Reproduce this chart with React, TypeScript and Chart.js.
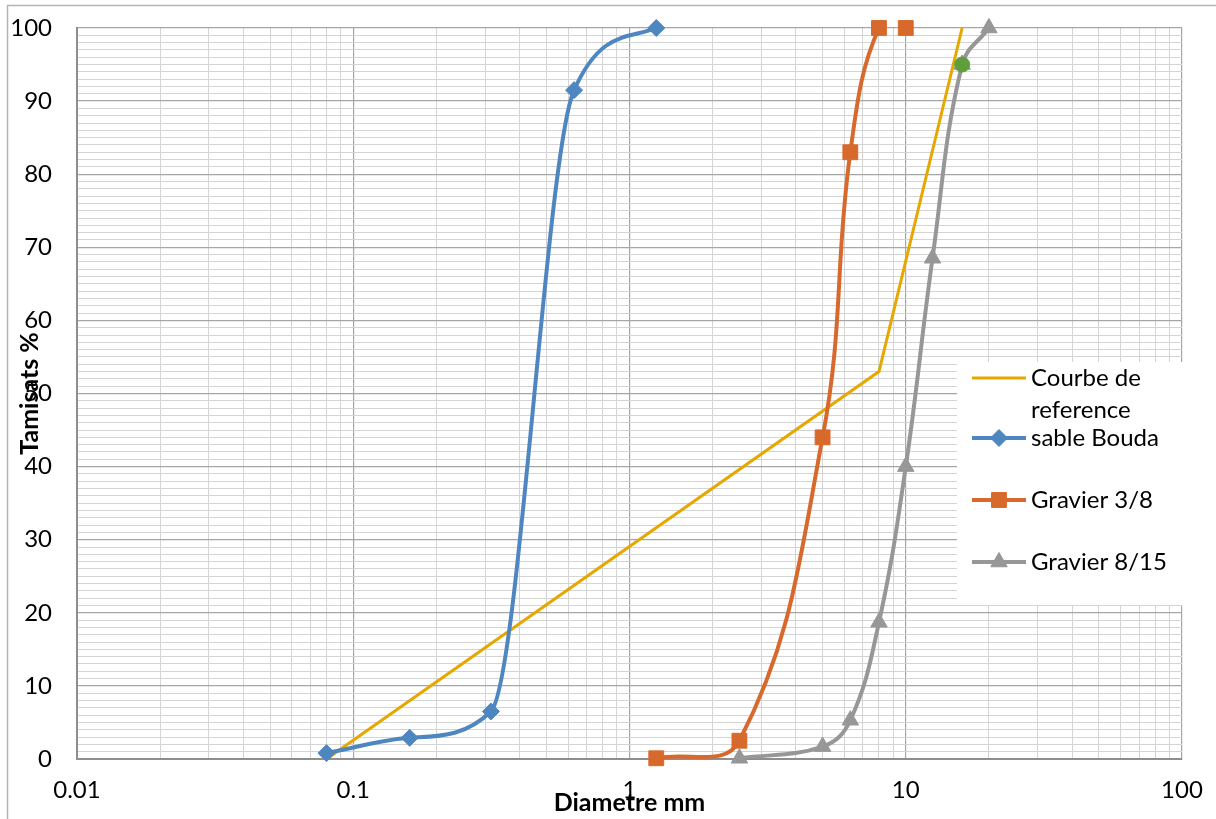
import React, { useEffect, useRef } from 'react';
import { Chart, registerables } from 'chart.js';

Chart.register(...registerables);

// ---- data ----
const REF_LABEL = 'Courbe de reference';
const REF_X = [0.08, 8, 16];
const REF_Y = [0, 53, 100];

const SABLE_LABEL = 'sable Bouda';
const SABLE_X = [0.08, 0.16, 0.315, 0.63, 1.25];
const SABLE_Y = [0.8, 2.9, 6.5, 91.5, 100];

const G38_LABEL = 'Gravier 3/8';
const G38_X = [1.25, 2.5, 5, 6.3, 8, 10];
const G38_Y = [0.1, 2.5, 44, 83, 100, 100];

const G815_LABEL = 'Gravier 8/15';
const G815_X = [2.5, 5, 6.3, 8, 10, 12.5, 16, 20];
const G815_Y = [0.1, 1.7, 5.3, 18.7, 40, 68.5, 95, 100];

const EXTRA_X = [16];
const EXTRA_Y = [95];

const X_TICK_LABELS = ['0.01', '0.1', '1', '10', '100'];
const X_MINOR_MULTIPLIERS = [1, 2, 3, 4, 5, 6, 7, 8, 9];
const Y_MIN = 0;
const Y_MAX = 100;
const Y_STEP = 1;
const Y_LABEL_STEP = 10;

const X_TITLE = 'Diametre mm';
const Y_TITLE = 'Tamisats %';

// ---- styles ----
const C_REF = '#E6A800';
const C_BLUE = '#4E86C0';
const C_ORANGE = '#D8692C';
const C_GRAY = '#979797';
const C_GREEN = '#5E9E3D';
const GRID_MAJOR = '#A6A6A6';
const GRID_MINOR = '#D4D4D4';
const FONT = 'Lato, "Liberation Sans", sans-serif';

const toPts = (xs: number[], ys: number[]) => xs.map((x, i) => ({ x, y: ys[i] }));
const isDecade = (v: number) => X_TICK_LABELS.some((l) => Math.abs(parseFloat(l) - v) < 1e-9 * Math.max(1, v));

function drawMarker(ctx: CanvasRenderingContext2D, style: string, r: number, x: number, y: number) {
  ctx.beginPath();
  if (style === 'rectRot') {
    ctx.moveTo(x, y - r);
    ctx.lineTo(x + r, y);
    ctx.lineTo(x, y + r);
    ctx.lineTo(x - r, y);
  } else if (style === 'rect') {
    const s = r * Math.SQRT1_2;
    ctx.rect(x - s, y - s, 2 * s, 2 * s);
  } else if (style === 'triangle') {
    ctx.moveTo(x, y - r);
    ctx.lineTo(x + r * 0.866, y + r * 0.5);
    ctx.lineTo(x - r * 0.866, y + r * 0.5);
  } else {
    ctx.arc(x, y, r, 0, Math.PI * 2);
  }
  ctx.closePath();
  ctx.fill();
  ctx.stroke();
}

const frameLegendPlugin = {
  id: 'frameLegend',
  beforeDraw(chart: any) {
    const { ctx, width, height } = chart;
    ctx.save();
    ctx.fillStyle = '#fff';
    ctx.fillRect(0, 0, width, height);
    ctx.strokeStyle = '#B4B4B4';
    ctx.lineWidth = 1.5;
    ctx.strokeRect(7.5, 5.5, width + 50, height + 50);
    ctx.restore();
  },
  beforeDatasetsDraw(chart: any) {
    const { ctx, chartArea } = chart;
    const left = chartArea.right - 225;
    const top = chartArea.top + 334;
    const bottom = chartArea.top + 577;
    ctx.save();
    ctx.fillStyle = '#fff';
    ctx.fillRect(left, top, chartArea.right - left + 2, bottom - top);
    const ys = [top + 16, top + 76, top + 138, top + 200];
    ctx.font = '24px ' + FONT;
    ctx.textBaseline = 'middle';
    ctx.textAlign = 'left';
    [0, 1, 2, 3].forEach((di, i) => {
      const ds = chart.data.datasets[di];
      const y = ys[i];
      const x0 = left + 15;
      const x1 = left + 69;
      ctx.strokeStyle = ds.borderColor;
      ctx.lineWidth = ds.borderWidth;
      ctx.beginPath();
      ctx.moveTo(x0, y);
      ctx.lineTo(x1, y);
      ctx.stroke();
      if (ds.pointRadius > 0) {
        ctx.fillStyle = ds.pointBackgroundColor;
        ctx.strokeStyle = ds.pointBorderColor;
        ctx.lineWidth = 1;
        drawMarker(ctx, ds.pointStyle, ds.pointRadius, (x0 + x1) / 2, y);
      }
      ctx.fillStyle = '#000';
      const tx = left + 74;
      if (i === 0) {
        const words = String(ds.label).split(' ');
        ctx.fillText(words.slice(0, 2).join(' '), tx, y);
        ctx.fillText(words.slice(2).join(' '), tx, y + 32);
      } else {
        ctx.fillText(ds.label, tx, y);
      }
    });
    ctx.restore();
  },
  afterDraw(chart: any) {
    const { ctx, chartArea } = chart;
    ctx.save();
    ctx.fillStyle = '#000';
    ctx.font = 'bold 25px ' + FONT;
    ctx.textAlign = 'center';
    ctx.textBaseline = 'middle';
    ctx.fillText(X_TITLE, (chartArea.left + chartArea.right) / 2, chartArea.bottom + 44);
    ctx.translate(30, (chartArea.top + chartArea.bottom) / 2);
    ctx.rotate(-Math.PI / 2);
    ctx.fillText(Y_TITLE, 0, 0);
    ctx.restore();
  },
};

export default function App() {
  const ref = useRef<HTMLCanvasElement>(null);
  useEffect(() => {
    if (!ref.current) return;
    const lineDs = (label: string, xs: number[], ys: number[], color: string, style: any, radius: number, width: number, order: number) => ({
      label,
      order,
      data: toPts(xs, ys),
      borderColor: color,
      backgroundColor: color,
      pointBackgroundColor: color,
      pointBorderColor: color,
      pointBorderWidth: 1,
      borderWidth: width,
      pointStyle: style,
      pointRadius: radius,
      pointHoverRadius: radius,
      tension: 0.4,
      clip: false as any,
      segment: {
        borderColor: (c: any) => (c.p0.parsed.y >= Y_MAX && c.p1.parsed.y >= Y_MAX ? 'rgba(0,0,0,0)' : color),
      },
    });
    const datasets: any[] = [
      { ...lineDs(REF_LABEL, REF_X, REF_Y, C_REF, 'circle', 0, 3, 4), tension: 0 },
      { ...lineDs(SABLE_LABEL, SABLE_X, SABLE_Y, C_BLUE, 'rectRot', 8.5, 4, 3), cubicInterpolationMode: 'monotone' },
      lineDs(G38_LABEL, G38_X, G38_Y, C_ORANGE, 'rect', 10.5, 4, 2),
      lineDs(G815_LABEL, G815_X, G815_Y, C_GRAY, 'triangle', 9.5, 4, 1),
      { ...lineDs('', EXTRA_X, EXTRA_Y, C_GREEN, 'circle', 7.5, 0, 0), showLine: false },
    ];
    const chart = new Chart(ref.current, {
      type: 'line',
      data: { datasets },
      plugins: [frameLegendPlugin],
      options: {
        animation: false,
        responsive: false,
        layout: { padding: { top: 28, right: 34, left: 0, bottom: 0 } },
        elements: { line: { capBezierPoints: false } },
        plugins: { legend: { display: false }, tooltip: { enabled: false }, title: { display: false } },
        scales: {
          x: {
            type: 'logarithmic',
            min: parseFloat(X_TICK_LABELS[0]),
            max: parseFloat(X_TICK_LABELS[X_TICK_LABELS.length - 1]),
            afterBuildTicks: (scale: any) => {
              const vals: number[] = [];
              X_TICK_LABELS.forEach((l, i) => {
                const d = parseFloat(l);
                if (i === X_TICK_LABELS.length - 1) vals.push(d);
                else X_MINOR_MULTIPLIERS.forEach((m) => vals.push(Number((d * m).toPrecision(6))));
              });
              scale.ticks = vals.map((v) => ({ value: v }));
            },
            afterFit: (scale: any) => {
              scale.height = 60;
              scale.paddingLeft = 0;
              scale.paddingRight = 0;
            },
            ticks: {
              autoSkip: false,
              maxRotation: 0,
              padding: 17,
              color: '#000',
              font: { family: FONT, size: 24 },
              callback: (v: any) => {
                const f = X_TICK_LABELS.find((l) => Math.abs(parseFloat(l) - Number(v)) < 1e-9 * Math.max(1, Number(v)));
                return f ?? '';
              },
            },
            grid: {
              drawTicks: false,
              color: (c: any) => (c.tick && isDecade(c.tick.value) ? GRID_MAJOR : GRID_MINOR),
              lineWidth: (c: any) => (c.tick && isDecade(c.tick.value) ? 1.2 : 1),
            },
            border: { color: '#8E8E8E', width: 2 },
          },
          y: {
            type: 'linear',
            min: Y_MIN,
            max: Y_MAX,
            afterFit: (scale: any) => {
              scale.width = 77;
              scale.paddingTop = 0;
              scale.paddingBottom = 0;
            },
            ticks: {
              stepSize: Y_STEP,
              autoSkip: false,
              padding: 25,
              color: '#000',
              font: { family: FONT, size: 24 },
              callback: (v: any) => (Number(v) % Y_LABEL_STEP === 0 ? String(v) : ''),
            },
            grid: {
              drawTicks: false,
              color: (c: any) => (c.tick && c.tick.value % Y_LABEL_STEP === 0 ? GRID_MAJOR : GRID_MINOR),
              lineWidth: (c: any) => (c.tick && c.tick.value % Y_LABEL_STEP === 0 ? 1.2 : 1),
            },
            border: { color: '#8E8E8E', width: 2 },
          },
        },
      },
    });
    return () => chart.destroy();
  }, []);
  return <canvas ref={ref} width={1216} height={819} style={{ position: 'absolute', left: 0, top: 0 }} />;
}
